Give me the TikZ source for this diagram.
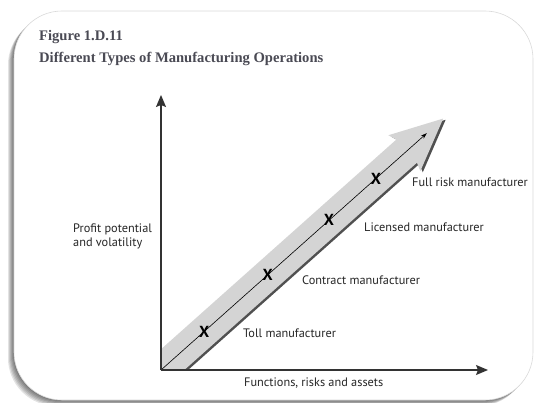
\documentclass[tikz,border=0pt]{standalone}
\usepackage{fontspec}
\setmainfont{Liberation Serif}
\setsansfont{PT Sans}
\usetikzlibrary{arrows.meta}
\definecolor{bandgray}{HTML}{D4D4D4}
\definecolor{bandshade}{HTML}{505050}
\definecolor{titlegray}{HTML}{4A4A54}

\begin{document}
\begin{tikzpicture}[x=1pt, y=-1pt,
    title/.style={font=\bfseries\fontsize{14.6}{16}\selectfont, text=titlegray, inner sep=0pt, anchor=west},
    tag/.style={font=\sffamily\fontsize{12.3}{14}\selectfont, text=black!85, inner sep=0pt, anchor=west},
    xmark/.style={font=\sffamily\bfseries\fontsize{16}{16}\selectfont, inner sep=0pt},
    axis/.style={line width=1.2pt, draw=black!80, -{Stealth[length=12pt, width=10pt, inset=2pt]}},
    frame/.style={rounded corners=48pt}]
    \useasboundingbox (0,0) rectangle (534,403);
    % card and its shadow
    \foreach \i in {1,...,6}
        \fill[black, opacity=0.11, frame] (14-\i,11+\i) rectangle (533-\i,400+\i);
    \fill[white, frame] (14,11) rectangle (533,400);
    \draw[black!15, line width=0.6pt, frame] (14,11) rectangle (533,400);
    \node[title] (fig) at (39,37) {Figure 1.D.11};
    \node[title] (ttl) at (39,59) {Different Types of Manufacturing Operations};

    \coordinate (O) at (161,370);
    \coordinate (ytip) at (161,95);
    \coordinate (xtip) at (488,370);

    % big grey arrow
    \begin{scope}
        \clip (O) rectangle (520,80);
        \begin{scope}[shift={(O)}, rotate=41.7]
            \fill[bandshade] (-40,-13) -- (330,-13) -- (327,-21.5) -- (379,2.5) -- (327,26.5)
                -- (330,18) -- (-40,18) -- cycle;
            \fill[bandgray] (-40,-15.5) -- (329,-15.5) -- (326,-24) -- (378,0) -- (326,24)
                -- (329,15.5) -- (-40,15.5) -- cycle;
            \coordinate (intip) at (356,0);
            \foreach \d/\n in {58/toll, 143/contract, 225/licensed, 288/full}
                \node[xmark] (x\n) at (\d,0) {X};
        \end{scope}
    \end{scope}
    \draw[line width=0.6pt, -{Stealth[length=6pt, width=4pt]}] (O) -- (intip);

    \draw[axis] (O) -- (ytip);
    \draw[axis] (O) -- (xtip);

    \node[tag, align=left] (yname) at (73,236) {Profit potential\\and volatility};
    \node[tag] (xname) at (244,383) {Functions, risks and assets};
    \node[tag] (toll) at (243,333) {Toll manufacturer};
    \node[tag] (contract) at (302,280) {Contract manufacturer};
    \node[tag] (licensed) at (364,227) {Licensed manufacturer};
    \node[tag] (full) at (412,182) {Full risk manufacturer};
\end{tikzpicture}
\end{document}
